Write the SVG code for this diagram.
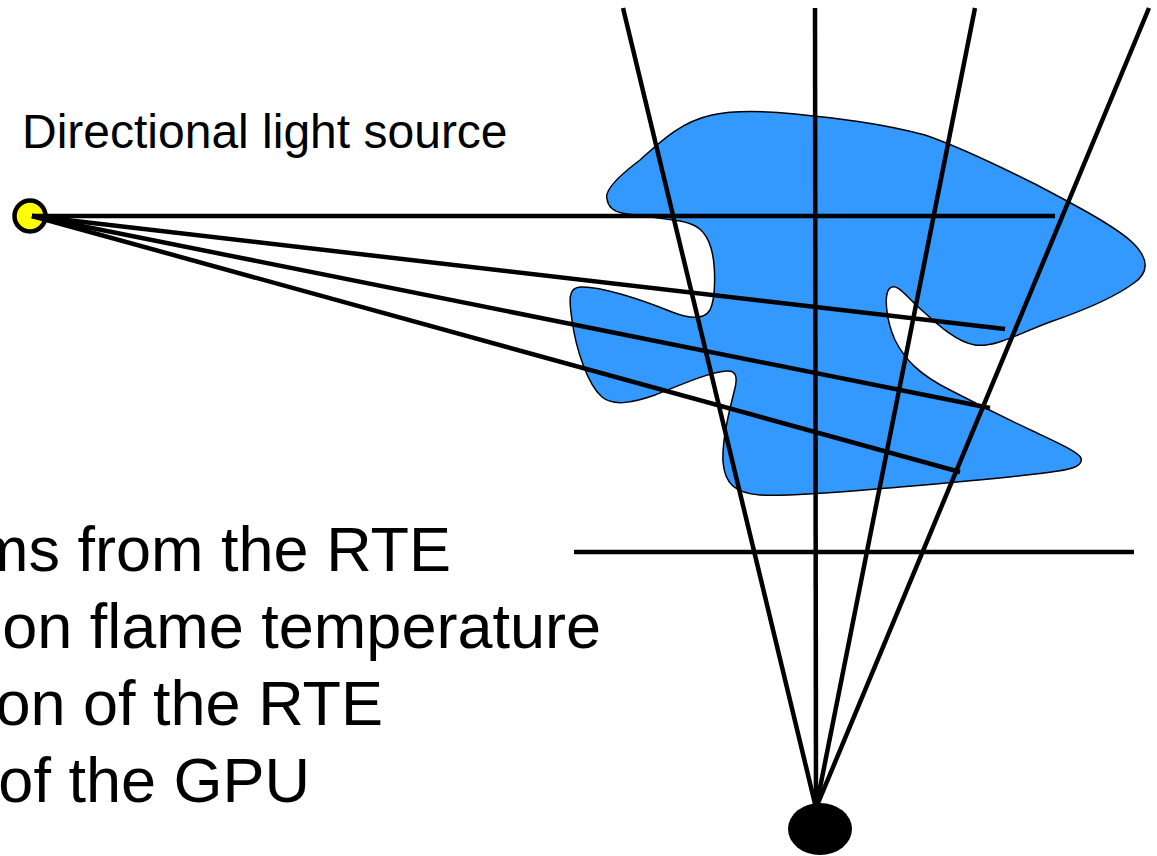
<svg xmlns="http://www.w3.org/2000/svg" width="1157" height="856" viewBox="0 0 1157 856">
<style>
.ray{stroke:#000;stroke-width:4.5;fill:none;stroke-linecap:butt}
.big{font-family:"Liberation Sans",Arial,sans-serif;font-size:63px;fill:#000;text-anchor:end}
.lbl{font-family:"Liberation Sans",Arial,sans-serif;font-size:48px;fill:#000}
</style>
<rect width="1157" height="856" fill="#fff"/>
<g id="flame">
<path d="M 607,199 C 604,190 620,175 640,160 C 660,142 680,122 712,115 C 735,110 765,111 795,114 C 835,118 880,123 925,135 C 960,147 995,164 1035,184 C 1075,205 1115,226 1133,243 C 1150,260 1148,273 1134,283 C 1115,297 1085,310 1050,322 C 1020,333 995,348 975,345 C 955,342 935,322 915,304 C 903,292 895,282 889,289 C 884,296 886,320 895,340 C 905,360 920,375 950,390 C 975,403 1005,418 1035,432 C 1060,444 1078,452 1081,458 C 1083,466 1072,469 1058,471 C 1020,477 960,482 900,487 C 850,491 790,497 760,495 C 735,493 725,484 723,462 C 722,440 729,412 734,392 C 738,378 737,370 726,371 C 710,372 680,385 655,395 C 635,402 614,407 602,397 C 588,385 576,350 572,320 C 569,300 568,288 580,287 C 600,286 640,299 672,312 C 690,319 704,320 710,310 C 716,298 716,265 711,248 C 706,231 697,224 680,221 C 660,218 638,216 622,213 C 612,211 608,206 607,199 Z" fill="#3399FF" stroke="#000" stroke-width="1.5"/>
</g>
<g id="light-source">
<circle cx="30" cy="216" r="15.5" fill="#FFFF00" stroke="#000" stroke-width="4.5"/>
</g>
<g id="viewpoint">
<ellipse cx="820" cy="829" rx="32" ry="26" fill="#000"/>
</g>
<g id="connectors">
<line class="ray" x1="32" y1="216" x2="1055" y2="216"/>
<line class="ray" x1="32" y1="216" x2="1005" y2="329"/>
<line class="ray" x1="32" y1="216" x2="990" y2="408"/>
<line class="ray" x1="32" y1="216" x2="960" y2="472"/>
<line class="ray" x1="816" y1="808" x2="623" y2="8"/>
<line class="ray" x1="816" y1="808" x2="815" y2="8"/>
<line class="ray" x1="816" y1="808" x2="975" y2="8"/>
<line class="ray" x1="816" y1="808" x2="1149" y2="8"/>
<line class="ray" x1="574" y1="552" x2="1134" y2="552"/>
</g>
<g id="labels">
<text class="lbl" x="22" y="148">Directional light source</text>
<text class="big" x="451" y="571">ms from the RTE</text>
<text class="big" x="601" y="648">on flame temperature</text>
<text class="big" x="383" y="725">on of the RTE</text>
<text class="big" x="310" y="802">of the GPU</text>
</g>
</svg>
